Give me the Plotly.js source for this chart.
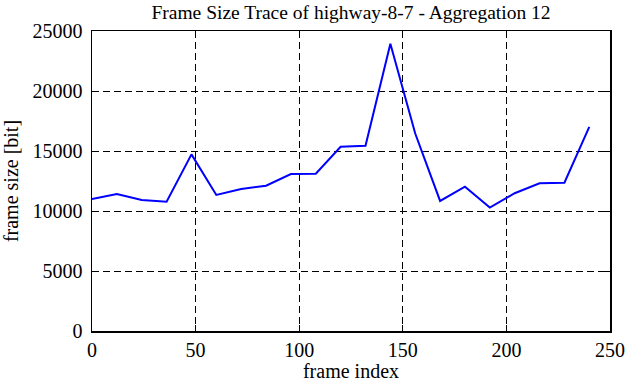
<!DOCTYPE html>
<html><head><meta charset="utf-8">
<script src="https://cdn.plot.ly/plotly-3.0.1.min.js"></script>
<style>html,body{margin:0;padding:0;background:#fff}#c{width:626px;height:382px}</style>
</head><body><div id="c"></div>
<script>
const frameIndex = [0,12,24,36,48,60,72,84,96,108,120,132,144,156,168,180,192,204,216,228,240];
const frameSize = [11000,11420,10920,10780,14720,11340,11830,12110,13080,13100,15350,15430,23940,16460,10840,12030,10290,11480,12310,12360,17010];
const xTicks = [0,50,100,150,200,250];
const yTicks = [0,5000,10000,15000,20000,25000];
const F = "Liberation Serif, Times New Roman, serif";
Plotly.newPlot('c', [{
  x: frameIndex, y: frameSize, type: 'scatter', mode: 'lines',
  line: {color: '#0000ff', width: 2}, showlegend: false
}], {
  width: 626, height: 382,
  margin: {l: 92, r: 16, t: 31, b: 51},
  paper_bgcolor: '#fff', plot_bgcolor: '#fff',
  font: {family: F, size: 20, color: '#000'},
  title: {text: 'Frame Size Trace of highway-8-7 - Aggregation 12', font: {family: F, size: 19.5, color: '#000'},
    xref: 'paper', x: 0.5, xanchor: 'center', yref: 'container', y: 0.968, yanchor: 'middle'},
  xaxis: {range: [0, 250], tickvals: xTicks, ticktext: xTicks.map(String),
    tickfont: {family: F, size: 20},
    showgrid: true, gridcolor: '#000', griddash: '7px,4px', gridwidth: 1,
    showline: true, linecolor: '#000', linewidth: 1.5, mirror: 'ticks',
    ticks: 'inside', ticklen: 6, tickcolor: '#000', zeroline: false,
    title: {text: 'frame index', font: {family: F, size: 20}, standoff: 2}},
  yaxis: {range: [0, 25000], tickvals: yTicks, ticktext: yTicks.map(String),
    tickfont: {family: F, size: 20}, ticklabelstandoff: 4,
    showgrid: true, gridcolor: '#000', griddash: '7px,4px', gridwidth: 1,
    showline: true, linecolor: '#000', linewidth: 1.5, mirror: 'ticks',
    ticks: 'inside', ticklen: 6, tickcolor: '#000', zeroline: false,
    title: {text: 'frame size [bit]', font: {family: F, size: 20}, standoff: 8}}
}, {displayModeBar: false, staticPlot: true});
</script></body></html>
